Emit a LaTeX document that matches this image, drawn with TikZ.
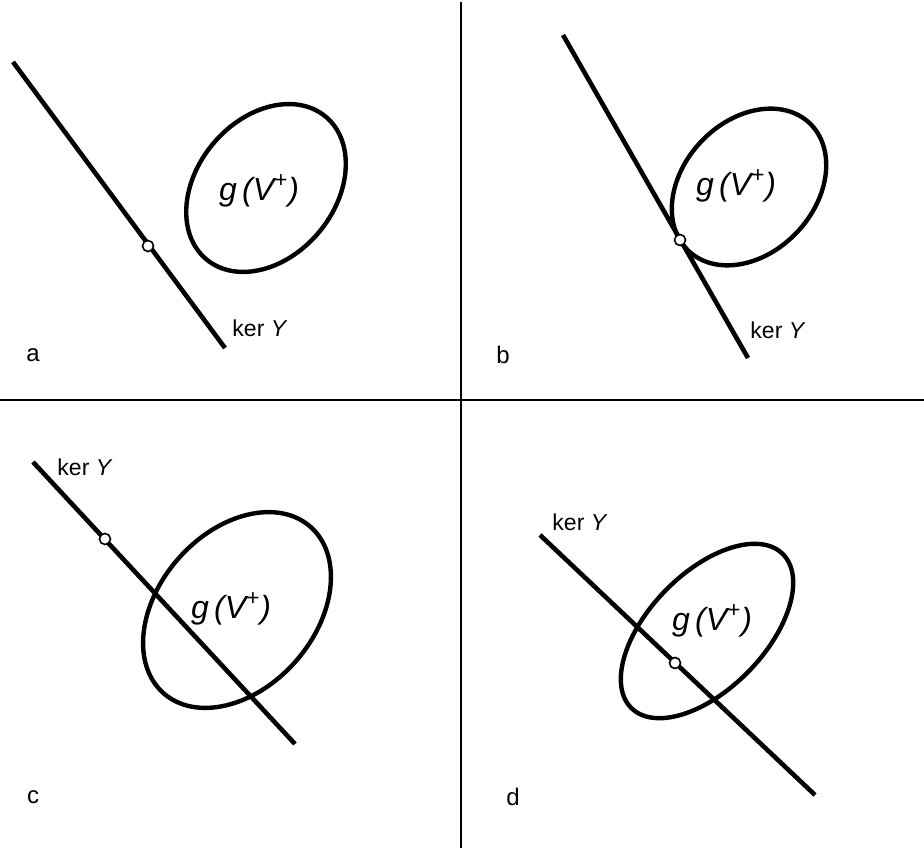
\documentclass[tikz,border=0pt]{standalone}
\usepackage{fontspec}
\setmainfont{Liberation Sans}
\newcommand{\kerY}{ker \textit{Y}}
\newcommand{\gV}{g\,(V\textsuperscript{+})}
\begin{document}
\begin{tikzpicture}[x=0.5pt, y=0.5pt,
    kerline/.style={line width=2.3pt},
    blob/.style={line width=2.2pt},
    origin/.style={circle, draw, fill=white, line width=0.8pt, inner sep=0pt, minimum size=5.5pt},
    kerlabel/.style={font=\fontsize{11.5}{13}\selectfont, inner sep=0pt},
    setlabel/.style={font=\fontsize{16}{18}\selectfont\itshape, inner sep=0pt},
    panel/.style={font=\fontsize{12}{14}\selectfont, inner sep=0pt}]

    \useasboundingbox (0,0) rectangle (924,850);

    % dividing cross
    \coordinate (Top) at (461,848);
    \coordinate (Bottom) at (461,2);
    \coordinate (Left) at (0,450);
    \coordinate (Right) at (924,450);
    \draw[line width=1.2pt] (Top) -- (Bottom);
    \draw[line width=1.2pt] (Left) -- (Right);

    % panel a: kernel misses the set
    \coordinate (aStart) at (13,788);
    \coordinate (aEnd) at (225,502);
    \coordinate (aSet) at (266,662);
    \draw[blob, rotate around={50:(aSet)}] (aSet) ellipse [x radius=93, y radius=69];
    \draw[kerline] (aStart) -- (aEnd);
    \node[origin] (aDot) at (148,604) {};
    \node[setlabel] (aG) at (259,659) {\gV};
    \node[kerlabel] (aKer) at (260,522) {\kerY};
    \node[panel] (aName) at (33,495) {a};

    % panel b: kernel touches the set
    \coordinate (bStart) at (563,815);
    \coordinate (bEnd) at (748,492);
    \coordinate (bSet) at (749,663);
    \draw[blob, rotate around={46.5:(bSet)}] (bSet) ellipse [x radius=88, y radius=66];
    \draw[kerline] (bStart) -- (bEnd);
    \node[origin] (bDot) at (680,610) {};
    \node[setlabel] (bG) at (736,664) {\gV};
    \node[kerlabel] (bKer) at (778,520) {\kerY};
    \node[panel] (bName) at (503,495) {b};

    % panel c: kernel cuts the set, origin outside
    \coordinate (cStart) at (33,388);
    \coordinate (cEnd) at (295,106);
    \coordinate (cSet) at (237,240);
    \draw[blob, rotate around={48.5:(cSet)}] (cSet) ellipse [x radius=111, y radius=78];
    \draw[kerline] (cStart) -- (cEnd);
    \node[origin] (cDot) at (105,311) {};
    \node[setlabel] (cG) at (231,241) {\gV};
    \node[kerlabel] (cKer) at (85,383) {\kerY};
    \node[panel] (cName) at (33,53) {c};

    % panel d: origin inside the set
    \coordinate (dStart) at (540,315);
    \coordinate (dEnd) at (815,55);
    \coordinate (dSet) at (707,219);
    \draw[blob, rotate around={45.6:(dSet)}] (dSet) ellipse [x radius=108, y radius=58];
    \draw[kerline] (dStart) -- (dEnd);
    \node[origin] (dDot) at (675,187) {};
    \node[setlabel] (dG) at (712,229) {\gV};
    \node[kerlabel] (dKer) at (580,328) {\kerY};
    \node[panel] (dName) at (513,53) {d};

\end{tikzpicture}
\end{document}
